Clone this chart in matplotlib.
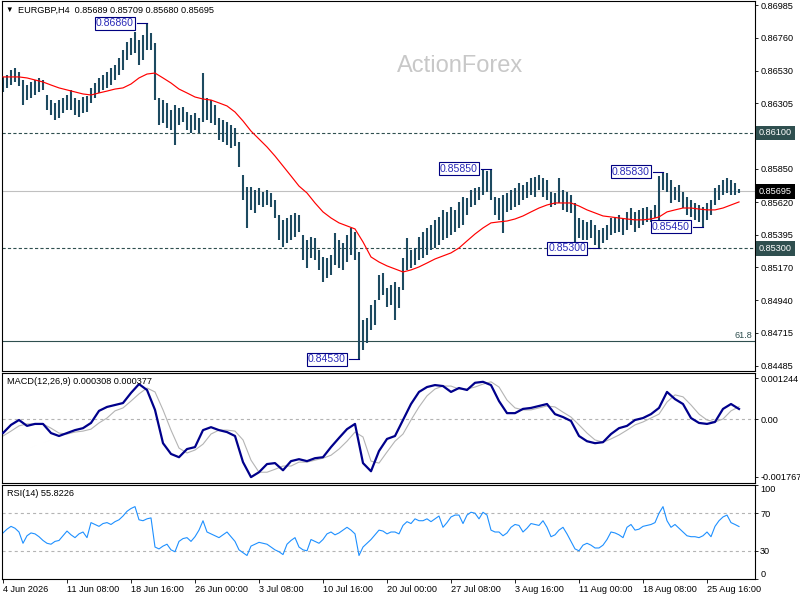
import numpy as np
import matplotlib
matplotlib.use("Agg")
import matplotlib.pyplot as plt
from matplotlib.transforms import blended_transform_factory

plt.rcParams['font.family'] = ['Liberation Sans', 'DejaVu Sans']
plt.rcParams['lines.scale_dashes'] = False

# ---------------- data (EURGBP H4, one bar per 8h slot) ----------------
high = [
    0.86487, 0.86500, 0.86535, 0.86549, 0.86521, 0.86466, 0.86431, 0.86452, 0.86466, 0.86480,
    0.86466, 0.86362, 0.86327, 0.86307, 0.86327, 0.86341, 0.86362, 0.86397, 0.86341, 0.86327,
    0.86348, 0.86355, 0.86411, 0.86445, 0.86480, 0.86500, 0.86521, 0.86549, 0.86570, 0.86618,
    0.86673, 0.86729, 0.86757, 0.86798, 0.86743, 0.86777, 0.86860, 0.86791, 0.86722, 0.86341,
    0.86327, 0.86307, 0.86258, 0.86293, 0.86272, 0.86279, 0.86244, 0.86223, 0.86237, 0.86203,
    0.86514, 0.86341, 0.86327, 0.86293, 0.86203, 0.86189, 0.86175, 0.86154, 0.86133, 0.86036,
    0.85808, 0.85725, 0.85725, 0.85704, 0.85718, 0.85690, 0.85704, 0.85683, 0.85635, 0.85531,
    0.85497, 0.85510, 0.85531, 0.85545, 0.85531, 0.85392, 0.85358, 0.85378, 0.85371, 0.85288,
    0.85240, 0.85233, 0.85254, 0.85406, 0.85358, 0.85337, 0.85392, 0.85441, 0.85413, 0.85274,
    0.84804, 0.84818, 0.84908, 0.84942, 0.85115, 0.85129, 0.85025, 0.85046, 0.85067, 0.85032,
    0.85233, 0.85371, 0.85288, 0.85302, 0.85378, 0.85413, 0.85441, 0.85462, 0.85497, 0.85517,
    0.85566, 0.85552, 0.85586, 0.85566, 0.85621, 0.85656, 0.85649, 0.85704, 0.85718, 0.85725,
    0.85843, 0.85836, 0.85850, 0.85656, 0.85649, 0.85670, 0.85683, 0.85704, 0.85718, 0.85753,
    0.85739, 0.85760, 0.85787, 0.85794, 0.85808, 0.85787, 0.85774, 0.85690, 0.85683, 0.85787,
    0.85704, 0.85690, 0.85670, 0.85614, 0.85510, 0.85497, 0.85483, 0.85497, 0.85462, 0.85427,
    0.85441, 0.85462, 0.85510, 0.85517, 0.85531, 0.85510, 0.85552, 0.85579, 0.85552, 0.85566,
    0.85579, 0.85586, 0.85566, 0.85600, 0.85801, 0.85830, 0.85822, 0.85774, 0.85725, 0.85739,
    0.85690, 0.85656, 0.85635, 0.85614, 0.85600, 0.85586, 0.85614, 0.85635, 0.85718, 0.85739,
    0.85774, 0.85787, 0.85774, 0.85753, 0.85709,
]
low = [
    0.86383, 0.86411, 0.86431, 0.86452, 0.86424, 0.86293, 0.86327, 0.86341, 0.86362, 0.86383,
    0.86397, 0.86258, 0.86223, 0.86189, 0.86203, 0.86237, 0.86258, 0.86258, 0.86223, 0.86210,
    0.86237, 0.86244, 0.86307, 0.86341, 0.86376, 0.86397, 0.86411, 0.86431, 0.86466, 0.86500,
    0.86535, 0.86604, 0.86639, 0.86653, 0.86570, 0.86604, 0.86673, 0.86673, 0.86327, 0.86154,
    0.86168, 0.86133, 0.86120, 0.86016, 0.86154, 0.86175, 0.86120, 0.86099, 0.86120, 0.86099,
    0.86175, 0.86189, 0.86168, 0.86154, 0.86050, 0.86036, 0.86016, 0.85995, 0.86009, 0.85863,
    0.85635, 0.85441, 0.85566, 0.85545, 0.85600, 0.85586, 0.85600, 0.85586, 0.85510, 0.85358,
    0.85309, 0.85337, 0.85358, 0.85378, 0.85413, 0.85219, 0.85164, 0.85233, 0.85219, 0.85150,
    0.85067, 0.85095, 0.85115, 0.85185, 0.85164, 0.85150, 0.85205, 0.85254, 0.85219, 0.84530,
    0.84596, 0.84645, 0.84735, 0.84769, 0.84942, 0.84977, 0.84894, 0.84908, 0.84804, 0.84887,
    0.85012, 0.85150, 0.85164, 0.85185, 0.85219, 0.85233, 0.85254, 0.85288, 0.85302, 0.85323,
    0.85358, 0.85371, 0.85392, 0.85413, 0.85441, 0.85462, 0.85531, 0.85586, 0.85600, 0.85635,
    0.85670, 0.85690, 0.85635, 0.85531, 0.85497, 0.85406, 0.85552, 0.85566, 0.85586, 0.85600,
    0.85635, 0.85649, 0.85670, 0.85656, 0.85704, 0.85656, 0.85635, 0.85586, 0.85600, 0.85614,
    0.85566, 0.85552, 0.85545, 0.85344, 0.85371, 0.85358, 0.85358, 0.85371, 0.85323, 0.85300,
    0.85337, 0.85358, 0.85392, 0.85406, 0.85413, 0.85392, 0.85427, 0.85462, 0.85413, 0.85441,
    0.85462, 0.85483, 0.85483, 0.85510, 0.85497, 0.85704, 0.85690, 0.85614, 0.85635, 0.85621,
    0.85579, 0.85531, 0.85517, 0.85497, 0.85483, 0.85450, 0.85497, 0.85531, 0.85600, 0.85635,
    0.85670, 0.85683, 0.85670, 0.85670, 0.85680,
]
# moving average, MACD and signal sampled every second slot
ma = [
    0.86487, 0.86487, 0.86487, 0.86480, 0.86466, 0.86452, 0.86431, 0.86411, 0.86397, 0.86383,
    0.86369, 0.86362, 0.86376, 0.86389, 0.86403, 0.86411, 0.86438, 0.86480, 0.86507, 0.86514,
    0.86480, 0.86445, 0.86403, 0.86376, 0.86348, 0.86334, 0.86327, 0.86307, 0.86286, 0.86244,
    0.86182, 0.86112, 0.86057, 0.86002, 0.85939, 0.85870, 0.85801, 0.85731, 0.85683, 0.85614,
    0.85552, 0.85510, 0.85476, 0.85455, 0.85434, 0.85344, 0.85240, 0.85205, 0.85178, 0.85157,
    0.85136, 0.85150, 0.85171, 0.85198, 0.85226, 0.85247, 0.85268, 0.85302, 0.85351, 0.85399,
    0.85441, 0.85476, 0.85483, 0.85489, 0.85503, 0.85524, 0.85552, 0.85579, 0.85600, 0.85614,
    0.85614, 0.85614, 0.85593, 0.85566, 0.85545, 0.85524, 0.85517, 0.85510, 0.85503, 0.85497,
    0.85497, 0.85503, 0.85517, 0.85552, 0.85566, 0.85579, 0.85579, 0.85572, 0.85566, 0.85566,
    0.85579, 0.85600, 0.85621,
]
macd = [
    -0.00043, -0.00018, -0.00003, -0.00021, -0.00015, -0.00015, -0.00043, -0.00052, -0.00043, -0.00034,
    -0.00028, -0.00012, 0.00025, 0.00037, 0.00043, 0.00049, 0.00080, 0.00107, 0.00089, 0.00028,
    -0.00074, -0.00107, -0.00117, -0.00092, -0.00086, -0.00034, -0.00025, -0.00034, -0.00040, -0.00052,
    -0.00132, -0.00178, -0.00163, -0.00138, -0.00135, -0.00157, -0.00129, -0.00123, -0.00129, -0.00120,
    -0.00117, -0.00086, -0.00058, -0.00031, -0.00015, -0.00135, -0.00160, -0.00098, -0.00061, -0.00052,
    -0.00003, 0.00046, 0.00083, 0.00098, 0.00104, 0.00101, 0.00083, 0.00095, 0.00089, 0.00111,
    0.00114, 0.00104, 0.00055, 0.00018, 0.00018, 0.00031, 0.00034, 0.00040, 0.00046, 0.00015,
    0.00006, -0.00006, -0.00052, -0.00068, -0.00074, -0.00071, -0.00046, -0.00028, -0.00021, -0.00003,
    0.00003, 0.00015, 0.00034, 0.00083, 0.00061, 0.00046, 0.00003, -0.00012, -0.00015, -0.00009,
    0.00031, 0.00046, 0.000308,
]
signal = [
    -0.00052, -0.00037, -0.00021, -0.00015, -0.00015, -0.00015, -0.00028, -0.00043, -0.00046, -0.00040,
    -0.00037, -0.00031, -0.00012, 0.00003, 0.00025, 0.00034, 0.00055, 0.00077, 0.00095, 0.00083,
    0.00028, -0.00034, -0.00089, -0.00104, -0.00095, -0.00077, -0.00046, -0.00034, -0.00034, -0.00037,
    -0.00064, -0.00126, -0.00163, -0.00163, -0.00154, -0.00144, -0.00144, -0.00132, -0.00132, -0.00126,
    -0.00120, -0.00111, -0.00092, -0.00068, -0.00040, -0.00055, -0.00129, -0.00135, -0.00101, -0.00068,
    -0.00046, -0.00003, 0.00037, 0.00071, 0.00092, 0.00101, 0.00101, 0.00092, 0.00092, 0.00098,
    0.00107, 0.00114, 0.00098, 0.00058, 0.00034, 0.00028, 0.00028, 0.00034, 0.00040, 0.00037,
    0.00021, 0.00006, -0.00018, -0.00043, -0.00064, -0.00071, -0.00061, -0.00049, -0.00034, -0.00018,
    -0.00009, 0.00003, 0.00015, 0.00052, 0.00074, 0.00068, 0.00043, 0.00015, -0.00003, -0.00009,
    0.00000, 0.00025, 0.000377,
]
rsi = [
    49, 53, 56, 54, 50, 38, 46, 49, 48, 45,
    41, 38, 37, 40, 41, 46, 51, 47, 44, 48,
    50, 44, 60, 58, 56, 59, 60, 58, 61, 63,
    67, 72, 75, 77, 63, 62, 64, 65, 34, 32,
    35, 37, 31, 29, 40, 43, 44, 40, 45, 52,
    62, 50, 48, 46, 44, 47, 50, 45, 40, 31,
    28, 25, 35, 37, 39, 38, 37, 34, 31, 29,
    26, 37, 41, 44, 34, 31, 30, 42, 40, 38,
    42, 48, 50, 47, 49, 52, 55, 52, 48, 25,
    34, 38, 42, 47, 52, 51, 48, 50, 50, 48,
    57, 61, 59, 64, 62, 62, 64, 61, 64, 67,
    55, 60, 66, 68, 68, 59, 68, 71, 70, 64,
    71, 68, 52, 50, 50, 46, 49, 55, 58, 57,
    50, 54, 59, 58, 57, 62, 55, 45, 47, 52,
    55, 48, 40, 32, 30, 36, 38, 36, 33, 33,
    36, 42, 50, 49, 47, 44, 55, 58, 52, 53,
    56, 57, 58, 60, 70, 77, 62, 55, 58, 54,
    50, 46, 45, 45, 44, 46, 50, 45, 56, 62,
    66, 68, 60, 58, 55.8226,
]
date_labels = ['4 Jun 2026', '11 Jun 08:00', '18 Jun 16:00', '26 Jun 00:00', '3 Jul 08:00',
               '10 Jul 16:00', '20 Jul 00:00', '27 Jul 08:00', '3 Aug 16:00', '11 Aug 00:00',
               '18 Aug 08:00', '25 Aug 16:00']
price_ticks = [0.86985, 0.86760, 0.86530, 0.86305, 0.85850, 0.85620,
               0.85395, 0.85170, 0.84940, 0.84715, 0.84485]
key_levels = [0.86100, 0.85300]
fib_level = 0.84658
fib_name = '61.8'
ohlc_last = [0.85689, 0.85709, 0.85680, 0.85695]
swing_bars = [36, 122, 89, 165, 149, 175]
swing_prices = [0.86860, 0.85850, 0.84530, 0.85830, 0.85300, 0.85450]
macd_ticks = [0.001244, 0.0, -0.001767]
macd_ticklabels = ['0.001244', '0.00', '-0.001767']
rsi_levels = [70, 30]

# ---------------- layout ----------------
W, H = 800, 600
fig = plt.figure(figsize=(8, 6), dpi=100)
fig.patch.set_facecolor('white')


def rect(top, bottom):
    return [2 / W, 1 - bottom / H, 753 / W, (bottom - top) / H]


ax1 = fig.add_axes(rect(1, 371))
ax2 = fig.add_axes(rect(373, 483))
ax3 = fig.add_axes(rect(485, 579))

n = len(high)
x = np.arange(n)
x2 = np.arange(0, n, 2)
bar_col = '#1d4a60'
slate = '#2f4f4f'
TXT = 6.6

for ax in (ax1, ax2, ax3):
    ax.set_xlim(-0.25, 188)
    for s in ax.spines.values():
        s.set_color('black')
        s.set_linewidth(0.8)
    ax.yaxis.tick_right()
    ax.tick_params(axis='y', direction='out', length=2.5, width=0.6, labelsize=TXT, pad=1.2)

# main panel
ax1.set_ylim(0.84450, 0.87013)
ax1.axhline(ohlc_last[3], color='#c0c0c0', lw=0.8, zorder=1)
for lv in key_levels:
    ax1.axhline(lv, color=slate, lw=0.8, ls=(0, (2.3, 1.6)), zorder=1)
ax1.axhline(fib_level, color=slate, lw=0.8, zorder=1)
ax1.vlines(x, low, high, color=bar_col, lw=1.5, zorder=2)
ax1.plot(x2, ma, color='#ff0000', lw=0.85, zorder=3)
ax1.set_yticks(price_ticks)
ax1.set_yticklabels([f'{v:.5f}' for v in price_ticks])
ax1.set_xticks([])

trans1 = blended_transform_factory(ax1.transAxes, ax1.transData)
ax1.text(0.996, fib_level + 0.00004, fib_name, transform=trans1, ha='right', va='bottom',
         fontsize=TXT, color=slate)
for lv in key_levels:
    ax1.text(1.005, lv, f'{lv:.5f}', transform=trans1, ha='left', va='center', fontsize=TXT,
             color='white', clip_on=False, zorder=6,
             bbox=dict(boxstyle='square,pad=0.3', fc=slate, ec='none'))
ax1.text(1.005, ohlc_last[3], f'{ohlc_last[3]:.5f}', transform=trans1, ha='left', va='center',
         fontsize=TXT, color='white', clip_on=False, zorder=6,
         bbox=dict(boxstyle='square,pad=0.3', fc='black', ec='none'))

for j, p in zip(swing_bars, swing_prices):
    ax1.plot([j - 2.6, j], [p, p], color='#000080', lw=0.8, zorder=4)
    ax1.annotate(f'{p:.5f}', xy=(j, p), xytext=(-13, 0), textcoords='offset pixels',
                 ha='right', va='center', fontsize=7.6, color='#2a2ab8', zorder=5,
                 bbox=dict(boxstyle='square,pad=0.14', fc='white', ec='#000080', lw=0.8))

# MACD panel
ax2.set_ylim(-0.00196, 0.00141)
ax2.axhline(0, color='#b4b4b4', lw=0.8, ls=(0, (2.2, 2.2)), zorder=1)
ax2.plot(x2, signal, color='#b4b4b4', lw=0.8, zorder=2)
ax2.plot(x2, macd, color='#00008b', lw=1.6, zorder=3)
ax2.set_yticks(macd_ticks)
ax2.set_yticklabels(macd_ticklabels)
ax2.set_xticks([])

# RSI panel
ax3.set_ylim(0, 100)
for lv in rsi_levels:
    ax3.axhline(lv, color='#b4b4b4', lw=0.8, ls=(0, (2.2, 2.2)), zorder=1)
ax3.plot(x, rsi, color='#1e90ff', lw=0.8, zorder=2)
ax3.set_yticks([100, 70, 30, 0])
ax3.set_yticklabels(['100', '70', '30', '0'])
ticks = ax3.yaxis.get_major_ticks()
ticks[0].label2.set_va('top')
ticks[3].label2.set_va('bottom')
ax3.set_xticks(np.arange(len(date_labels)) * 16)
ax3.set_xticklabels(date_labels, ha='left')
ax3.tick_params(axis='x', direction='out', length=3, width=0.6, labelsize=TXT, pad=1.5)

# texts
fig.text(5 / W, 1 - 10 / H, '\u25bc', fontsize=5.5, va='center', ha='left', color='black')
fig.text(18 / W, 1 - 10 / H,
         'EURGBP,H4  ' + ' '.join(f'{v:.5f}' for v in ohlc_last),
         fontsize=TXT, va='center', ha='left', color='black')
fig.text(460 / W, 1 - 66 / H, 'ActionForex', fontsize=17, ha='center', va='center',
         color='#c8c8c8')
fig.text(7 / W, 1 - 381 / H, f'MACD(12,26,9) {macd[-1]:.6f} {signal[-1]:.6f}',
         fontsize=TXT, va='center', ha='left', color='black')
fig.text(7 / W, 1 - 494 / H, f'RSI(14) {rsi[-1]:.4f}', fontsize=TXT, va='center',
         ha='left', color='black')

fig.savefig('out.png', dpi=100, facecolor='white')
